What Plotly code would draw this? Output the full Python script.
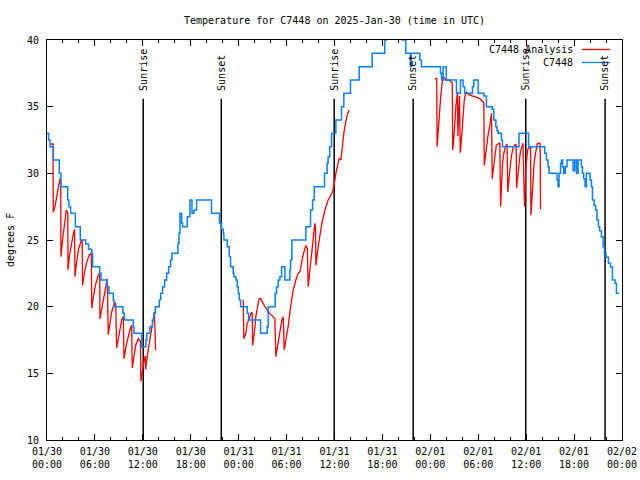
import plotly.graph_objects as go
import pandas as pd

BASE = pd.Timestamp("2025-01-30 00:00")

# Observed station temperature (hours after 01/30 00:00 UTC, deg F)
obs_hours = [0.0, 0.2, 0.38, 0.79, 1.54, 1.75, 2.59, 2.75, 2.96, 3.55, 4.17, 4.84, 5.2, 5.59, 5.71,
             6.6, 6.76, 7.55, 7.76, 8.3, 8.39, 9.5, 9.68, 10.8, 10.89, 11.85, 12.39, 12.5, 12.89,
             13.2, 13.4, 13.56, 14.06, 14.23, 14.48, 14.73, 14.98, 15.23, 15.48, 15.64, 16.4,
             16.53, 16.65, 16.86, 16.98, 17.56, 17.9, 18.15, 18.4, 18.73, 20.6, 21.6, 21.85,
             22.07, 22.15, 22.57, 22.82, 22.99, 23.32, 23.4, 23.65, 23.82, 23.95, 24.07, 24.24,
             25.07, 25.24, 26.74, 27.57, 27.7, 28.57, 28.74, 28.95, 29.16, 29.37, 29.79, 30.41,
             30.5, 30.66, 32.41, 33.0, 33.25, 33.46, 34.75, 35.08, 35.2, 35.4, 35.63, 36.17,
             36.88, 37.17, 38.0, 39.09, 40.72, 42.3, 42.5, 44.5, 44.93, 45.5, 45.6, 46.68, 46.89,
             49.27, 49.4, 49.6, 50.0, 51.27, 51.77, 52.1, 52.3, 53.28, 53.44, 53.98, 54.7, 55.03,
             55.75, 55.94, 56.2, 56.35, 56.48, 56.9, 57.03, 59.1, 60.3, 62.33, 62.54, 62.74,
             62.87, 63.87, 64.0, 64.12, 64.3, 64.42, 64.55, 64.7, 64.9, 65.12, 65.87, 66.08,
             66.3, 66.5, 66.92, 67.05, 67.2, 67.38, 67.55, 68.0, 68.17, 68.3, 68.5, 68.7, 68.87,
             69.05, 69.2, 69.42, 69.63, 69.8, 70.0, 70.3, 70.55, 70.8, 71.13, 71.3, 71.63]
obs_temp = [33, 32.5, 32, 31, 30, 29, 28, 27.5, 27, 26, 25, 24.7, 24.3, 24, 23,
            22.5, 22, 21.5, 21, 20.5, 20, 19.5, 19, 18.5, 18, 17, 17.5, 18, 18.5,
            19, 19.5, 20, 20.5, 21, 21.5, 22, 22.5, 23, 23.5, 24, 24.75,
            25.5, 27, 26.25, 26, 26.75, 28, 27, 27.25, 28, 27, 26.25, 25.8,
            25.5, 25, 24.5, 23.75, 23, 22.5, 22.25, 22, 21.5, 21, 20.5, 20,
            19.5, 19, 18, 18.5, 20, 21, 21.5, 22, 22.25, 23, 22, 22.75,
            23.5, 25, 26, 27.25, 28, 29, 30, 30.75, 31.25, 32, 33, 34,
            35, 36, 37, 38, 39, 40, 41, 40, 39, 38, 39, 38.5, 38,
            37.5, 37, 38, 37, 36, 37, 36.5, 36, 36.5, 37, 36, 35.8, 35,
            34.8, 34, 33.5, 33.2, 33, 32.5, 32, 33, 32, 31.5, 31, 30.5,
            30, 29.5, 29, 30, 30.75, 31, 30.5, 30, 30.5, 31, 30.2, 31,
            30, 31, 30.5, 30, 29.6, 29, 30, 29.5, 29, 28, 27.6, 27.25, 26.5,
            26, 25.7, 25.25, 24.5, 24, 23.7, 23.25, 23, 22, 21.75, 21, 21]

# Analysis temperature (None = gap)
ana_hours = [0.45, 0.76, 0.78, 1.0, 1.2, 1.45, 1.63, 1.72, 1.75, 1.95, 2.1, 2.25, 2.42, 2.6, 2.63,
             2.8, 3.0, 3.25, 3.45, 3.5, 3.7, 3.95, 4.25, 4.4, 4.45, 4.7, 5.0, 5.3, 5.55, 5.6,
             5.85, 6.1, 6.4, 6.6, 6.63, 6.9, 7.15, 7.35, 7.55, 7.67, 7.9, 8.1, 8.35, 8.6, 8.72,
             8.95, 9.15, 9.35, 9.55, 9.64, 9.95, 10.2, 10.45, 10.6, 10.68, 10.95, 11.15, 11.45,
             11.7, 11.76, 11.9, 12.1, 12.3, 12.35, 12.6, 12.9, 13.2, 13.45, 13.6,
             None,
             24.57, 24.65, 24.9, 25.07, 25.32, 25.61, 25.7, 25.74, 25.95, 26.15, 26.4, 26.57,
             26.74, 27.28, 27.9, 28.53, 28.66, 28.95, 29.16, 29.41, 29.58, 29.7, 29.91, 30.2,
             30.5, 30.83, 31.16, 31.45, 31.66, 32.08, 32.41, 32.6, 32.7, 33.0, 33.25, 33.54,
             33.62, 33.67, 33.96, 34.17, 34.42, 34.8, 35.2, 35.76, 35.92, 36.05, 36.17, 36.46,
             36.59, 36.8, 36.88, 37.0, 37.17, 37.3, 37.42, 37.59, 37.84,
             None,
             48.56, 48.8, 48.85, 49.0, 49.1, 49.3, 49.5, 49.7, 49.9, 50.4, 50.75, 50.8, 50.95,
             51.1, 51.2, 51.4, 51.45, 51.65, 51.75, 51.95, 52.1, 52.25, 52.4, 52.5, 52.8, 53.4,
             53.8, 54.2, 54.65, 54.7, 54.75, 54.95, 55.2, 55.45, 55.66, 55.75, 56.05, 56.25,
             56.7, 56.8, 56.95, 57.05, 57.2, 57.4, 57.6, 57.7, 57.95, 58.15, 58.4, 58.75, 58.8,
             59.0, 59.25, 59.45, 59.6, 59.8, 59.9, 60.0, 60.2, 60.55, 60.6, 60.8, 61.0, 61.2,
             61.4, 61.75, 61.8]
ana_temp = [32.2, 32.2, 27.1, 27.5, 28.2, 29.1, 29.6, 29.3, 23.75, 25.0, 25.8, 26.6, 27.25, 27.0, 22.75,
            23.8, 24.6, 25.3, 25.8, 22.25, 23.3, 24.3, 24.9, 25.0, 21.6, 22.6, 23.4, 23.9, 24.0, 19.9,
            20.9, 21.7, 22.3, 22.5, 19.1, 20.0, 20.8, 21.7, 22.1, 17.9, 19.0, 19.6, 20.1, 20.3, 16.9,
            17.8, 18.4, 19.0, 19.25, 16.1, 17.2, 17.9, 18.4, 18.6, 15.4, 16.5, 17.2, 17.6,
            17.4, 14.4, 15.0, 15.8, 16.3, 15.3, 16.5, 17.7, 18.7, 19.6, 16.75,
            None,
            20.5, 17.6, 18.0, 18.75, 19.1, 19.6, 19.5, 17.1, 18.0, 19.25, 20.1, 20.6,
            20.6, 20.0, 19.5, 19.1, 16.25, 17.25, 18.0, 19.0, 19.25, 16.75, 17.5, 18.5,
            20.0, 21.25, 22.0, 22.5, 22.6, 23.9, 24.6, 24.3, 21.5, 23.25, 24.75, 26.25,
            26.0, 23.1, 24.5, 25.5, 26.25, 27.25, 28.0, 28.6, 29.0, 29.5, 30.0, 30.75,
            31.1, 31.0, 31.5, 32.25, 33.0, 33.5, 34.0, 34.4, 34.75,
            None,
            37.1, 37.1, 32.0, 33.5, 34.0, 35.75, 36.9, 37.2, 37.0, 37.0, 36.75, 31.75, 32.7,
            34.2, 35.0, 36.1, 32.8, 35.8, 31.55, 33.0, 34.5, 35.5, 35.9, 36.1, 35.9, 35.8,
            35.7, 35.6, 35.3, 35.3, 30.6, 31.75, 32.75, 33.6, 34.5, 29.6, 31.0, 32.1,
            32.3, 27.5, 29.5, 30.8, 31.5, 32.0, 32.2, 28.6, 30.2, 31.3, 32.0, 32.2, 28.9,
            30.3, 31.5, 32.0, 32.25, 27.5, 29.2, 30.7, 31.8, 32.0, 26.85, 28.8, 30.8, 31.6,
            32.25, 32.25, 27.3]

sun_hours = [12.05, 21.82, 35.96, 45.85, 59.95, 69.88]
sun_labels = ["Sunrise", "Sunset", "Sunrise", "Sunset", "Sunrise", "Sunset"]

tick_hours = [0, 6, 12, 18, 24, 30, 36, 42, 48, 54, 60, 66, 72]
tick_labels = ["01/30<br>00:00", "01/30<br>06:00", "01/30<br>12:00", "01/30<br>18:00",
               "01/31<br>00:00", "01/31<br>06:00", "01/31<br>12:00", "01/31<br>18:00",
               "02/01<br>00:00", "02/01<br>06:00", "02/01<br>12:00", "02/01<br>18:00",
               "02/02<br>00:00"]
y_ticks = [10, 15, 20, 25, 30, 35, 40]

title = "Temperature for C7448 on 2025-Jan-30 (time in UTC)"
legend_names = ["C7448 Analysis", "C7448"]
RED = "#ff0000"
BLUE = "#0a80ff"
FONT = "DejaVu Sans Mono"


def to_time(hs):
    return [None if h is None else BASE + pd.Timedelta(hours=h) for h in hs]


sun_x, sun_y = [], []
for h in sun_hours:
    t = BASE + pd.Timedelta(hours=h)
    sun_x += [t, t, None]
    sun_y += [10, 35.6, None]

fig = go.Figure()
fig.add_trace(go.Scatter(x=sun_x, y=sun_y, mode="lines",
                         line=dict(color="black", width=1.5), hoverinfo="skip"))
fig.add_trace(go.Scatter(x=to_time(ana_hours), y=ana_temp, mode="lines",
                         name=legend_names[0], line=dict(color=RED, width=1.3)))
fig.add_trace(go.Scatter(x=to_time(obs_hours), y=obs_temp, mode="lines",
                         name=legend_names[1], line=dict(color=BLUE, width=1.5, shape="hv")))

annotations = []
for h, lab in zip(sun_hours, sun_labels):
    annotations.append(dict(x=BASE + pd.Timedelta(hours=h), y=36.05, xref="x", yref="y",
                            text=lab, textangle=-90, showarrow=False,
                            xanchor="center", yanchor="bottom",
                            font=dict(family=FONT, size=10, color="black")))

# legend (gnuplot style: text left, sample right)
leg_y = [(440 - 49.5) / 400, (440 - 62.5) / 400]
for name, ly, col in zip(legend_names, leg_y, [RED, BLUE]):
    annotations.append(dict(x=0.918, y=ly, xref="paper", yref="paper", text=name,
                            showarrow=False, xanchor="right", yanchor="middle",
                            font=dict(family=FONT, size=10, color="black")))
annotations.append(dict(x=-(47 - 10) / 575, y=0.5, xref="paper", yref="paper",
                        text="degrees F", textangle=-90, showarrow=False,
                        xanchor="center", yanchor="middle",
                        font=dict(family=FONT, size=10, color="black")))

shapes = []
for ly, col in zip(leg_y, [RED, BLUE]):
    shapes.append(dict(type="line", xref="paper", yref="paper", x0=0.930, x1=0.979,
                       y0=ly, y1=ly, line=dict(color=col, width=1.3)))

fig.update_layout(
    width=640, height=480,
    margin=dict(l=47, r=18, t=40, b=40),
    paper_bgcolor="white", plot_bgcolor="white",
    showlegend=False,
    title=dict(text=title, x=(47 + 575 / 2) / 640, xanchor="center", y=1 - 20 / 480,
               yanchor="middle", font=dict(family=FONT, size=10, color="black")),
    font=dict(family=FONT, size=10, color="black"),
    annotations=annotations,
    shapes=shapes,
    xaxis=dict(range=[BASE, BASE + pd.Timedelta(hours=72)], tickvals=to_time(tick_hours),
               ticktext=tick_labels, ticks="inside", ticklen=6, tickcolor="black",
               mirror="allticks", showline=True, linecolor="black", linewidth=1,
               showgrid=False, zeroline=False, ticklabelstandoff=2, automargin=False,
               tickfont=dict(family=FONT, size=10, color="black"),
               minor=dict(ticks="inside", ticklen=3, tickcolor="black",
                          dtick=2 * 3600 * 1000, tick0=BASE, showgrid=False)),
    yaxis=dict(range=[10, 40], tickvals=y_ticks, ticks="inside", ticklen=6,
               tickcolor="black", mirror="allticks", showline=True, linecolor="black",
               linewidth=1, showgrid=False, zeroline=False, ticklabelstandoff=5,
               automargin=False,
               tickfont=dict(family=FONT, size=10, color="black")),
)

fig.write_html("out.html", config={"displayModeBar": False},
               post_script="document.body.style.margin='0';document.body.style.overflow='hidden';")
